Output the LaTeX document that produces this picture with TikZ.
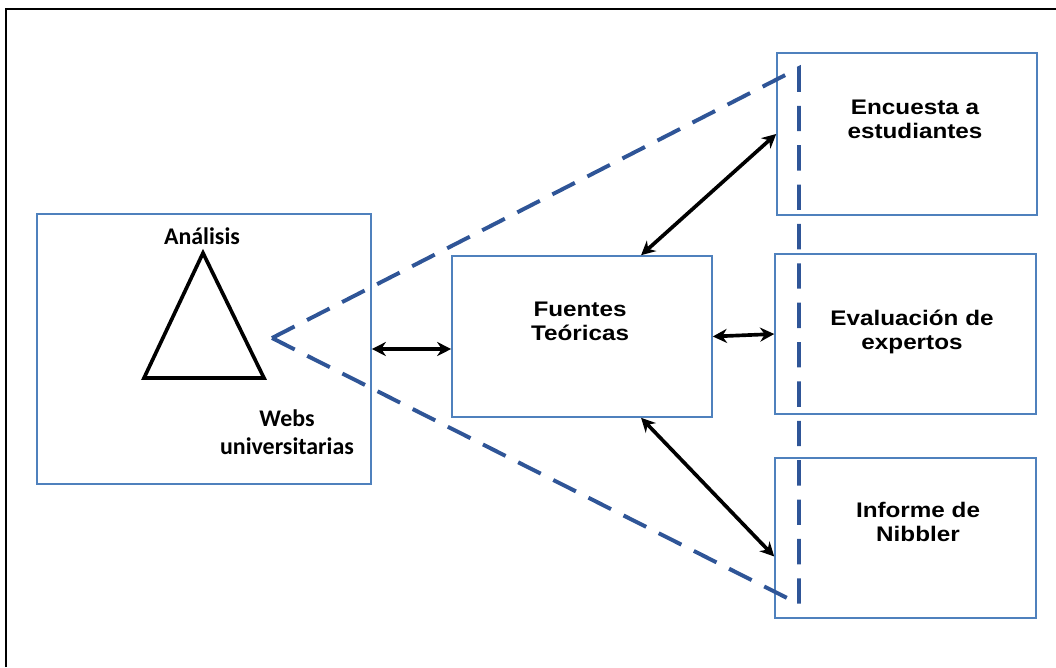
\documentclass[tikz,border=0pt]{standalone}
\usepackage{fontspec}
\setmainfont{Liberation Sans}
\newfontfamily\carlito{Carlito}
\usetikzlibrary{arrows.meta}

\definecolor{bordeazul}{HTML}{4F81BD}
\definecolor{trazoazul}{HTML}{2F5597}

\begin{document}
\begin{tikzpicture}[x=0.025cm,y=-0.025cm,
    caja/.style={draw=bordeazul, line width=1.1pt, inner sep=0pt, minimum width=6.5cm, minimum height=4.025cm},
    flecha/.style={>={Stealth[length=10pt,width=10pt]}, <->, line width=2.6pt},
    texto/.style={align=center, font=\bfseries\addfontfeatures{FakeStretch=1.15}\fontsize{15}{17}\selectfont},
    textoizq/.style={align=center, font=\carlito\bfseries\fontsize{17}{20}\selectfont}]

    % marco de la pagina
    \useasboundingbox (0,0) rectangle (1056,667);
    \draw[line width=1.4pt] (6,667) -- (6,9) -- (1056,9);

    % caja de analisis
    \node[caja, minimum width=8.35cm, minimum height=6.75cm] (analisis) at (204,349) {};
    \draw[line width=2.6pt, line join=miter] (203,253) -- (264,378) -- (144,378) -- cycle; % triangulo
    \node[textoizq] (lblanalisis) at (202,236) {Análisis};
    \node[textoizq] (lblwebs) at (287,432) {Webs\\universitarias};

    % fuentes teoricas
    \node[caja] (fuentes) at (582,336.5) {};
    \node[texto] (lblfuentes) at (580,321.5) {Fuentes\\Teóricas};

    % las tres cajas de la derecha
    \node[caja, minimum height=4.05cm] (encuesta) at (907,134) {};
    \node[caja, minimum width=6.525cm, minimum height=4cm] (evaluacion) at (905.5,334) {};
    \node[caja, minimum width=6.525cm, minimum height=4cm] (informe) at (905.5,538) {};
    \node[texto] (lblencuesta) at (915,119) {Encuesta a\\estudiantes};
    \node[texto] (lblevaluacion) at (912,332) {Evaluación de\\expertos};
    \node[texto] (lblinforme) at (918,522) {Informe de\\Nibbler};

    % flechas dobles
    \draw[flecha] (analisis.east) -- (analisis.east -| fuentes.west);
    \draw[flecha] (fuentes.east) -- (evaluacion.west);
    \draw[flecha] (fuentes.54) -- (encuesta.west);
    \draw[flecha] (fuentes.-54) -- (informe.188);

    % triangulo punteado azul
    \coordinate (punta) at (272,338);
    \coordinate (arriba) at (799,68);
    \coordinate (abajo) at (799,604);
    \draw[trazoazul, line width=2.8pt, dash pattern=on 18pt off 10pt] (punta) -- (arriba) -- (abajo) -- cycle;

\end{tikzpicture}
\end{document}
